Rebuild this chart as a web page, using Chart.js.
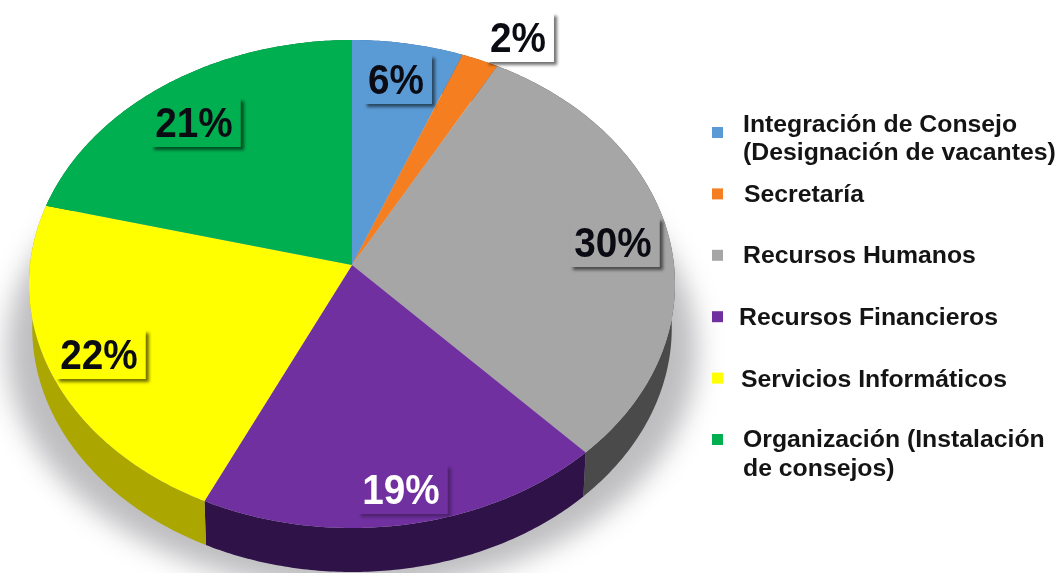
<!DOCTYPE html>
<html lang="es">
<head>
<meta charset="utf-8">
<title>Distribución por área</title>
<script src="https://cdn.jsdelivr.net/npm/chart.js@4/dist/chart.umd.min.js"></script>
<style>
  html, body { margin: 0; padding: 0; background: #fff; }
  #wrap { width: 1059px; height: 573px; }
</style>
</head>
<body>
<div id="wrap"><canvas id="pie" width="1059" height="573"></canvas></div>
<script>
// Data
const categories = [
  "Integración de Consejo (Designación de vacantes)",
  "Secretaría",
  "Recursos Humanos",
  "Recursos Financieros",
  "Servicios Informáticos",
  "Organización (Instalación de consejos)",
];
const percents = [6, 2, 30, 19, 22, 21];

// Styles
const faceColors = ["#5b9bd5", "#f57f20", "#a6a6a6", "#7030a0", "#ffff00", "#00b050"];
const sideColors = ["#2f5f8a", "#96501a", "#4a4a4a", "#2e1248", "#aba600", "#006a30"];
const labelInk = ["#0b0b14", "#0b0b14", "#0b0b14", "#ffffff", "#0b0b14", "#0b0b14"];
const labelBoxFill = ["#5b9bd5", "#ffffff", "#a6a6a6", "#7030a0", "#ffff00", "#00b050"];

// Layout of the label text centres and the wrapped legend lines
const labelCenters = [[396, 78], [518, 36], [613, 241], [401, 488], [99, 353], [194, 121]];
const legendLines = [
  { item: 0, text: "Integración de Consejo", x: 743, y: 132 },
  { item: 0, text: "(Designación de vacantes)", x: 743, y: 160 },
  { item: 1, text: "Secretaría", x: 744, y: 202 },
  { item: 2, text: "Recursos Humanos", x: 743, y: 263 },
  { item: 3, text: "Recursos Financieros", x: 739, y: 325 },
  { item: 4, text: "Servicios Informáticos", x: 741, y: 387 },
  { item: 5, text: "Organización (Instalación", x: 743, y: 447 },
  { item: 5, text: "de consejos)", x: 743, y: 476 },
];

// Tilted disc: a homography from the unit circle, so the apex sits above the ellipse centre
const TILT = { x: 352, y: 265, a: 322, b: 242.5, k: -0.0779, depth: 44, shrink: 0.99 };

function project(angle, scale, drop) {
  const u = Math.cos(angle);
  const v = Math.sin(angle);
  const w = 1 + TILT.k * v;
  return [TILT.x + (TILT.a * scale * u) / w, TILT.y + drop + (TILT.b * v) / w];
}

function tracePoints(ctx, from, to, scale, drop, first) {
  const steps = Math.max(4, Math.ceil(Math.abs(to - from) * 90));
  for (let i = 0; i <= steps; i++) {
    const p = project(from + ((to - from) * i) / steps, scale, drop);
    if (first && i === 0) ctx.moveTo(p[0], p[1]);
    else ctx.lineTo(p[0], p[1]);
  }
}

const tiltedPie = {
  id: "tiltedPie",
  beforeDatasetDraw(chart, args) {
    const ctx = chart.ctx;
    const arcs = chart.getDatasetMeta(args.index).data;

    // soft shadow under the disc: only the blurred copy lands on the canvas
    ctx.save();
    ctx.shadowColor = "rgba(120,120,125,0.48)";
    ctx.shadowBlur = 26;
    ctx.shadowOffsetX = 2000;
    ctx.fillStyle = "#000";
    ctx.beginPath();
    ctx.ellipse(352 - 2000, 350, 345, 240, 0, 0, Math.PI * 2);
    ctx.fill();
    ctx.restore();

    // side wall
    arcs.forEach((arc, i) => {
      ctx.beginPath();
      tracePoints(ctx, arc.startAngle, arc.endAngle, 1, 0, true);
      tracePoints(ctx, arc.endAngle, arc.startAngle, TILT.shrink, TILT.depth, false);
      ctx.closePath();
      ctx.fillStyle = sideColors[i];
      ctx.fill();
    });

    // top face
    arcs.forEach((arc) => {
      ctx.beginPath();
      ctx.moveTo(TILT.x, TILT.y);
      tracePoints(ctx, arc.startAngle, arc.endAngle, 1, 0, false);
      ctx.closePath();
      ctx.fillStyle = arc.options.backgroundColor;
      ctx.fill();
    });
    return false; // the arcs are painted above, skip the flat default
  },
  afterDatasetsDraw(chart) {
    const ctx = chart.ctx;

    // percent labels with their little shadowed boxes
    percents.forEach((value, i) => {
      const text = value + "%";
      const [cx, cy] = labelCenters[i];
      ctx.save();
      ctx.font = "bold 43px 'Liberation Sans', Arial, sans-serif";
      const half = (ctx.measureText(text).width * 0.9) / 2;
      ctx.shadowColor = i === 3 ? "rgba(0,0,0,0.3)" : "rgba(0,0,0,0.55)";
      ctx.shadowBlur = 3;
      ctx.shadowOffsetX = 3;
      ctx.shadowOffsetY = 3;
      ctx.fillStyle = labelBoxFill[i];
      ctx.fillRect(cx - half - 4, cy - 23, half * 2 + 12, 49);
      ctx.shadowColor = "transparent";
      ctx.translate(cx, cy + 16);
      ctx.scale(0.9, 1);
      ctx.textAlign = "center";
      ctx.fillStyle = labelInk[i];
      ctx.fillText(text, 0, 0);
      ctx.restore();
    });

    // legend, the lines are placed one by one as in the source picture
    categories.forEach((name, i) => {
      ctx.fillStyle = faceColors[i];
      ctx.fillRect(712, 127 + i * 61.4, 11, 11);
    });
    legendLines.forEach((line) => {
      ctx.save();
      ctx.font = "bold 23.5px 'Liberation Sans', Arial, sans-serif";
      ctx.fillStyle = "#141414";
      ctx.translate(line.x, line.y);
      ctx.scale(1.055, 1);
      ctx.fillText(line.text, 0, 0);
      ctx.restore();
    });
  },
};

new Chart(document.getElementById("pie"), {
  type: "pie",
  data: {
    labels: categories,
    datasets: [{ data: percents, backgroundColor: faceColors, borderWidth: 0 }],
  },
  options: {
    responsive: false,
    animation: false,
    events: [],
    plugins: { legend: { display: false }, tooltip: { enabled: false } },
  },
  plugins: [tiltedPie],
});
</script>
</body>
</html>
